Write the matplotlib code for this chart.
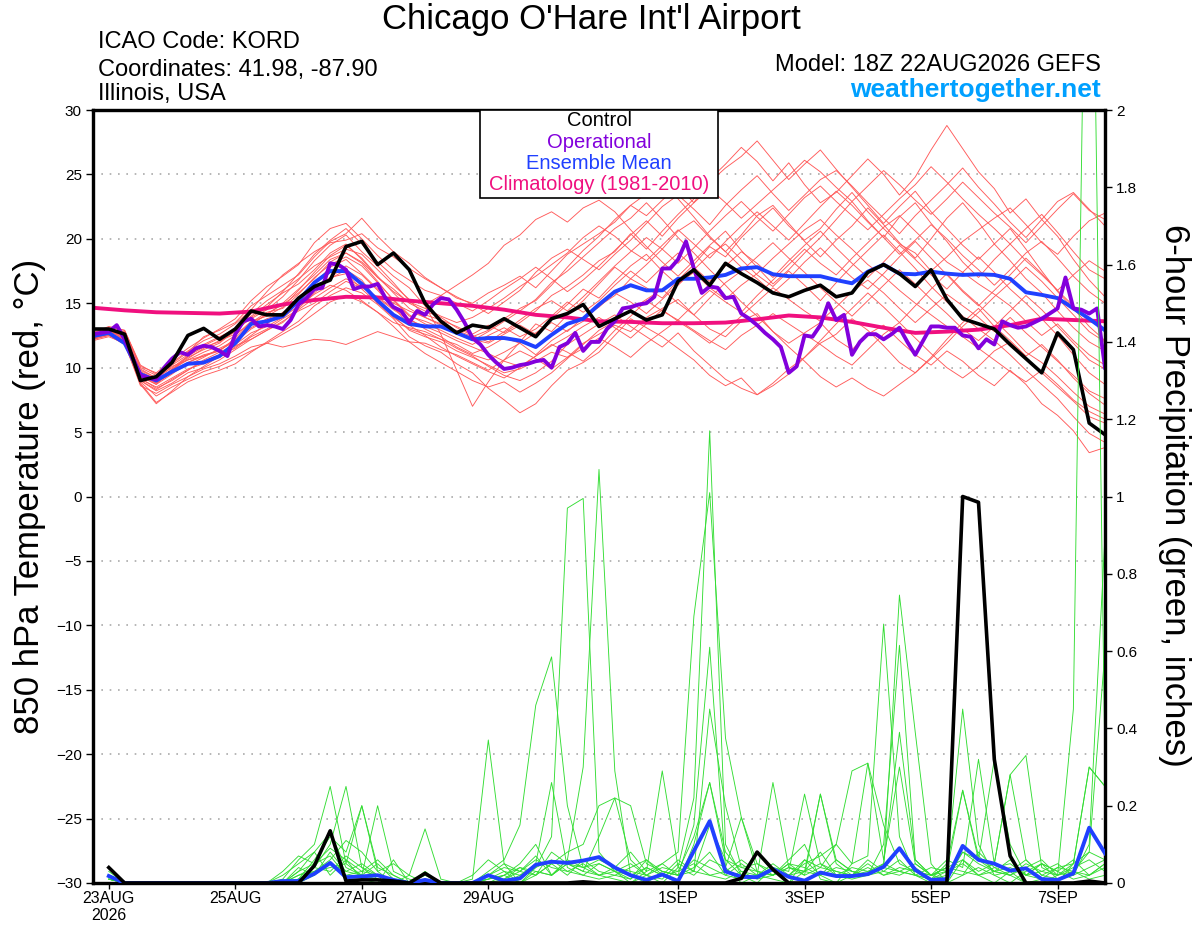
import numpy as np
import matplotlib
matplotlib.use("Agg")
import matplotlib.pyplot as plt
from matplotlib.patches import Rectangle

plt.rcParams['font.family'] = ['Liberation Sans', 'DejaVu Sans']

# forecast hours counted from 23AUG 00Z
hours_t = np.arange(-6, 379, 6)     # 850 hPa temperature, 6-hourly
hours_op = np.arange(-6, 379, 3)    # operational run, 3-hourly
hours_p = np.arange(0, 379, 6)      # 6-hour precipitation
hours_clim = np.arange(-6, 379, 12)

tick_hours = [0, 48, 96, 144, 216, 264, 312, 360]
tick_labels = ['23AUG\n2026', '25AUG', '27AUG', '29AUG', '1SEP', '3SEP', '5SEP', '7SEP']

# ---- temperature (deg C) ----
ctrl_temp = [13.0, 13.0, 12.6, 9.0, 9.3, 10.4, 12.5, 13.05,
             12.2, 13.0, 14.4, 14.1, 14.1, 15.4, 16.3, 16.8,
             19.4, 19.8, 18.0, 18.9, 17.6, 15.0, 13.6, 12.7,
             13.3, 13.1, 13.8, 13.1, 12.4, 13.8, 14.2, 14.9,
             13.2, 13.8, 14.4, 13.7, 14.1, 16.7, 17.6, 16.4,
             18.1, 17.3, 16.6, 15.8, 15.5, 16.0, 16.4, 15.5,
             15.8, 17.4, 18.0, 17.3, 16.3, 17.6, 15.3, 13.8,
             13.4, 13.0, 11.8, 10.7, 9.6, 12.7, 11.4, 5.7,
             4.8]

mean_temp = [12.45, 12.7, 11.9, 9.5, 9.0, 9.7, 10.3, 10.4,
             10.9, 11.9, 13.4, 13.6, 14.0, 15.2, 16.6, 17.5,
             17.5, 16.5, 15.2, 14.1, 13.4, 13.2, 13.2, 12.7,
             12.2, 12.3, 12.3, 12.1, 11.6, 12.55, 13.4, 13.8,
             14.9, 15.9, 16.4, 16.0, 16.0, 16.9, 16.9, 17.0,
             17.2, 17.7, 17.8, 17.25, 17.1, 17.1, 17.1, 16.8,
             16.55, 17.45, 18.0, 17.3, 17.25, 17.45, 17.3, 17.2,
             17.25, 17.2, 16.9, 15.85, 15.65, 15.4, 14.6, 13.8,
             12.9]

oper_temp = [12.6, 12.7, 12.8, 13.3, 12.2, 10.8, 9.4, 9.2, 9.1, 10.0, 10.7, 11.2, 11.0, 11.5, 11.7, 11.6,
             11.3, 10.9, 12.6, 13.6, 13.8, 13.2, 13.3, 13.2, 13.0, 13.7, 14.9, 15.4, 16.1, 16.2, 18.1, 18.0,
             17.6, 16.1, 16.3, 16.3, 16.5, 15.4, 14.7, 14.4, 13.5, 14.4, 14.1, 14.9, 15.4, 15.3, 14.5, 13.5,
             12.3, 11.8, 11.0, 10.4, 9.9, 10.0, 10.2, 10.3, 10.5, 10.6, 10.0, 11.6, 11.9, 12.7, 11.3, 12.0,
             12.0, 13.0, 13.6, 14.6, 14.7, 14.9, 15.0, 15.5, 17.7, 17.7, 18.4, 19.8, 17.7, 15.8, 16.3, 16.2,
             15.4, 15.5, 14.2, 13.8, 13.3, 12.7, 12.2, 11.6, 9.6, 10.1, 12.5, 12.4, 13.3, 15.0, 13.7, 14.1,
             11.0, 12.0, 12.6, 12.6, 12.2, 12.6, 13.1, 12.0, 11.0, 12.1, 13.2, 13.2, 13.1, 13.1, 12.5, 12.4,
             11.5, 12.2, 11.8, 13.6, 13.3, 13.1, 13.2, 13.5, 13.8, 14.2, 14.6, 17.0, 14.6, 14.5, 14.2, 14.6,
             10.0]

clim_temp = [14.65, 14.45, 14.3, 14.25, 14.2, 14.35, 14.9, 15.25, 15.5, 15.45, 15.2,
             15.0, 14.8, 14.5, 14.1, 13.9, 13.6, 13.55, 13.45, 13.45, 13.5, 13.75,
             14.05, 13.9, 13.55, 13.1, 12.7, 12.8, 12.95, 13.3, 13.8, 13.7, 13.6]

mem01 = [12.6, 13.0, 12.8, 10.0, 9.4, 10.3, 11.2, 12.4, 12.9, 13.5, 14.8, 15.6, 16.4, 17.2, 18.6, 19.8,
         20.4, 21.6, 20.2, 19.0, 18.1, 17.0, 16.2, 15.4, 15.0, 15.8, 16.4, 17.1, 16.2, 17.5, 18.8, 19.6,
         20.4, 21.3, 22.6, 21.8, 23.0, 24.1, 22.8, 24.6, 25.8, 27.1, 26.0, 24.5, 25.9, 24.2, 22.8, 23.6,
         24.9, 26.2, 25.0, 23.4, 24.8, 26.9, 28.8, 27.0, 25.2, 23.9, 22.0, 23.1, 21.5, 20.2, 18.4, 16.8, 15.5]
mem02 = [12.3, 12.6, 12.0, 9.0, 8.2, 8.8, 9.6, 10.0, 10.6, 11.4, 12.2, 12.9, 13.5, 14.6, 15.8, 16.9,
         17.6, 16.8, 15.2, 14.0, 12.9, 12.4, 12.0, 11.3, 10.8, 10.2, 9.6, 9.9, 10.5, 11.2, 10.8, 11.9,
         12.6, 13.3, 12.8, 13.9, 14.6, 15.3, 14.1, 13.0, 12.4, 13.6, 14.2, 12.8, 11.9, 12.7, 13.5, 12.2,
         11.4, 12.6, 13.3, 12.1, 11.0, 10.2, 11.3, 10.5, 9.4, 8.6, 9.8, 8.7, 7.2, 6.3, 5.1, 3.4, 3.8]
mem03 = [12.5, 12.9, 12.6, 9.6, 8.9, 9.8, 10.9, 11.6, 12.0, 12.8, 13.9, 14.7, 15.9, 17.3, 18.8, 19.9,
         20.8, 19.6, 18.2, 17.1, 16.2, 14.8, 12.6, 9.8, 7.0, 8.9, 10.6, 12.0, 13.4, 12.8, 14.1, 15.2,
         16.5, 17.8, 16.9, 18.0, 19.2, 20.6, 21.4, 20.1, 19.0, 20.3, 21.8, 22.6, 21.2, 19.8, 18.6, 19.9,
         21.0, 22.4, 21.1, 19.7, 18.5, 20.0, 21.6, 22.8, 21.3, 19.6, 20.8, 19.2, 17.5, 15.9, 14.6, 13.2, 12.1]
mem04 = [12.2, 12.5, 11.8, 8.8, 7.3, 8.1, 8.9, 9.4, 9.8, 10.3, 11.2, 12.0, 12.8, 13.6, 14.8, 15.6,
         16.2, 15.8, 14.9, 13.8, 12.4, 11.7, 11.2, 10.3, 9.6, 8.4, 7.5, 6.5, 7.2, 8.6, 9.8, 10.4,
         11.2, 12.5, 13.8, 13.1, 12.4, 11.5, 10.6, 9.4, 8.6, 9.2, 7.9, 8.8, 9.9, 10.8, 11.9, 12.6,
         13.8, 12.9, 11.7, 10.4, 9.6, 10.8, 12.2, 13.5, 14.6, 13.2, 12.1, 10.9, 11.8, 10.6, 9.2, 8.0, 7.1]
mem05 = [12.4, 12.7, 12.1, 9.3, 8.7, 9.9, 10.8, 11.4, 11.9, 12.9, 14.2, 15.2, 16.0, 16.9, 17.9, 18.6,
         19.2, 18.8, 17.6, 16.4, 15.3, 14.9, 15.6, 16.4, 17.2, 18.1, 19.5, 20.3, 21.5, 22.1, 21.3, 22.4,
         23.0, 22.1, 20.7, 19.4, 18.2, 17.1, 18.3, 19.5, 20.6, 19.1, 17.8, 16.5, 17.6, 18.9, 20.1, 21.5,
         22.9, 21.4, 20.1, 21.7, 22.8, 21.2, 19.8, 18.2, 17.0, 18.4, 19.6, 20.8, 21.9, 20.5, 19.0, 17.6, 16.9]
mem06 = [12.6, 12.9, 12.2, 9.7, 9.1, 10.1, 10.6, 10.9, 11.3, 12.2, 13.1, 13.8, 14.2, 15.4, 16.2, 17.0,
         17.3, 16.1, 15.0, 13.9, 13.0, 12.6, 12.2, 11.8, 11.1, 11.6, 12.3, 11.9, 11.0, 12.1, 12.9, 13.6,
         14.8, 15.6, 16.9, 16.2, 15.4, 16.8, 18.0, 19.4, 18.6, 20.1, 21.3, 22.4, 21.0, 19.9, 20.8, 22.3,
         23.6, 22.1, 20.8, 19.6, 18.9, 17.5, 18.6, 19.8, 20.7, 21.6, 22.4, 21.1, 19.7, 18.8, 20.2, 21.4, 22.0]
mem07 = [12.3, 12.6, 12.3, 9.2, 8.4, 9.0, 9.8, 10.6, 11.2, 11.8, 12.7, 13.2, 13.9, 14.8, 15.7, 16.4,
         16.0, 15.2, 14.3, 13.5, 13.1, 12.8, 12.2, 11.5, 10.9, 10.1, 9.4, 9.0, 9.6, 10.5, 11.8, 12.6,
         13.4, 14.1, 13.2, 12.4, 11.6, 12.7, 11.3, 10.2, 9.1, 8.4, 7.9, 8.6, 9.5, 10.8, 12.1, 13.4,
         14.6, 15.8, 14.7, 13.5, 14.8, 16.1, 17.3, 16.0, 14.9, 13.7, 12.5, 11.2, 10.4, 9.3, 8.1, 7.0, 6.4]
mem08 = [12.7, 13.1, 12.9, 10.2, 9.5, 10.4, 11.3, 12.1, 12.6, 13.4, 14.5, 15.9, 17.2, 18.1, 19.0, 19.7,
         19.9, 20.4, 19.3, 18.6, 17.7, 16.9, 16.2, 15.5, 14.9, 14.2, 15.1, 16.0, 17.4, 18.5, 19.2, 18.4,
         17.6, 18.8, 19.9, 21.2, 22.5, 23.4, 22.3, 21.1, 22.6, 23.8, 24.9, 23.5, 22.2, 23.4, 24.6, 25.3,
         24.1, 22.8, 21.6, 20.4, 21.8, 23.0, 24.2, 25.5, 24.0, 22.7, 21.3, 20.1, 21.5, 22.9, 23.6, 22.3, 21.0]
mem09 = [12.1, 12.4, 11.9, 8.6, 8.0, 8.7, 9.3, 9.9, 10.3, 10.9, 11.6, 11.9, 11.6, 11.9, 12.2, 12.1,
         11.8, 12.3, 12.8, 12.4, 12.0, 11.9, 11.4, 11.0, 10.4, 9.8, 10.6, 11.3, 10.7, 9.9, 10.8, 11.5,
         12.3, 11.6, 10.8, 11.9, 12.8, 13.7, 12.9, 12.1, 11.4, 12.5, 13.3, 14.2, 13.4, 12.6, 11.8, 10.9,
         10.2, 11.4, 12.6, 13.5, 12.3, 11.1, 10.0, 9.2, 10.1, 11.3, 12.0, 10.8, 9.6, 8.5, 7.4, 6.2, 5.7]
mem10 = [12.5, 12.8, 12.5, 9.5, 8.8, 9.6, 10.2, 10.8, 11.5, 12.1, 13.3, 14.2, 14.9, 15.8, 16.9, 18.2,
         18.9, 18.1, 16.7, 15.2, 14.0, 13.6, 13.1, 12.9, 12.4, 12.9, 13.8, 14.6, 15.2, 16.4, 17.8, 19.1,
         20.2, 21.5, 22.6, 23.5, 24.2, 23.1, 21.7, 20.2, 19.0, 17.8, 16.9, 15.8, 16.9, 18.2, 19.3, 18.1,
         17.0, 16.1, 17.3, 18.6, 19.8, 18.5, 17.2, 15.9, 14.8, 16.0, 17.2, 18.5, 17.3, 16.0, 14.8, 13.7, 12.9]
mem11 = [12.3, 12.7, 12.0, 9.1, 8.5, 9.2, 9.9, 10.3, 10.8, 11.6, 12.5, 13.4, 14.3, 15.0, 16.1, 17.0,
         17.9, 17.2, 16.0, 14.7, 13.3, 12.5, 11.6, 10.9, 10.3, 9.7, 9.2, 10.0, 10.9, 11.8, 11.2, 10.5,
         11.6, 12.9, 14.0, 15.2, 14.4, 13.7, 14.9, 16.0, 15.1, 14.3, 15.6, 16.8, 18.0, 19.2, 18.1, 17.2,
         18.5, 19.7, 20.9, 21.8, 20.6, 19.4, 18.2, 17.4, 16.5, 15.7, 14.8, 13.6, 12.5, 13.4, 12.1, 11.0, 10.2]
mem12 = [12.6, 13.0, 12.7, 9.9, 9.2, 10.0, 10.9, 11.8, 12.4, 13.0, 13.8, 14.5, 15.5, 16.8, 18.3, 19.5,
         20.3, 19.0, 17.9, 16.6, 15.2, 14.1, 13.7, 13.2, 12.6, 13.3, 12.7, 13.5, 14.4, 15.6, 16.3, 17.2,
         18.3, 19.0, 20.4, 19.2, 20.6, 21.9, 23.1, 24.4, 25.5, 26.4, 27.6, 26.1, 24.6, 25.8, 26.9, 25.4,
         24.0, 22.6, 21.2, 22.5, 23.7, 22.1, 20.8, 19.5, 18.4, 19.6, 18.3, 16.9, 15.8, 14.4, 13.1, 12.0, 11.3]
mem13 = [12.4, 12.8, 12.3, 9.4, 8.7, 9.5, 10.4, 10.9, 11.4, 12.0, 13.0, 13.7, 14.1, 15.1, 16.5, 17.8,
         18.4, 17.3, 16.1, 15.0, 14.4, 13.9, 13.4, 12.8, 12.2, 11.9, 12.6, 13.3, 12.6, 13.8, 14.9, 16.1,
         15.4, 16.7, 17.9, 18.8, 17.5, 16.4, 17.6, 18.8, 19.6, 18.4, 17.2, 16.3, 17.5, 16.4, 15.2, 16.6,
         17.9, 19.1, 20.3, 19.0, 17.7, 16.3, 15.1, 14.0, 13.0, 12.1, 11.0, 9.8, 8.7, 7.6, 6.2, 4.9, 4.2]
mem14 = [12.2, 12.5, 12.1, 8.9, 7.8, 8.5, 9.1, 9.7, 10.1, 10.7, 11.3, 11.9, 12.6, 13.3, 14.2, 15.1,
         15.6, 15.1, 14.3, 13.2, 12.0, 11.1, 10.4, 9.7, 9.0, 8.5, 8.9, 8.1, 8.8, 9.6, 10.7, 11.8,
         12.9, 13.6, 14.5, 15.3, 16.1, 15.0, 14.1, 15.4, 16.6, 17.5, 18.6, 19.7, 18.5, 17.4, 16.2, 15.1,
         14.0, 15.2, 16.4, 17.6, 16.5, 15.3, 14.2, 13.0, 12.1, 13.2, 14.4, 15.6, 14.5, 13.2, 11.9, 10.6, 9.9]
mem15 = [12.5, 12.9, 12.4, 9.6, 9.0, 9.9, 10.6, 11.2, 11.7, 12.5, 13.6, 14.0, 14.7, 16.0, 17.4, 18.7,
         19.5, 18.5, 17.1, 15.8, 14.6, 13.9, 13.3, 12.7, 12.1, 12.8, 13.6, 14.4, 15.3, 16.6, 17.5, 18.6,
         19.7, 20.8, 21.6, 22.8, 21.5, 20.1, 18.9, 17.6, 16.4, 15.1, 14.0, 12.8, 11.6, 10.5, 9.3, 8.5,
         9.2, 8.4, 7.8, 8.7, 9.6, 10.7, 11.9, 13.2, 14.3, 15.5, 16.6, 17.8, 16.7, 15.4, 14.1, 12.8, 12.0]
mem16 = [12.4, 12.7, 12.2, 9.4, 8.8, 9.7, 10.4, 11.0, 11.3, 12.3, 13.5, 14.3, 14.6, 15.7, 17.0, 18.0,
         18.6, 17.9, 16.6, 15.3, 14.1, 13.4, 12.9, 12.3, 11.8, 12.5, 13.1, 12.4, 13.0, 14.0, 15.1, 14.3,
         15.2, 16.4, 17.5, 16.6, 17.8, 18.9, 17.8, 16.7, 17.9, 19.0, 18.1, 17.0, 18.3, 19.5, 20.6, 19.3,
         18.1, 17.0, 18.2, 19.5, 18.4, 17.2, 16.1, 17.4, 18.6, 17.4, 16.1, 15.0, 13.8, 12.5, 11.0, 9.6, 8.7]
mem17 = [12.3, 12.6, 12.1, 8.7, 7.2, 8.2, 9.3, 10.1, 10.9, 11.7, 12.2, 12.9, 13.6, 14.4, 15.0, 15.9,
         16.7, 16.2, 15.5, 14.6, 13.8, 13.0, 12.4, 11.6, 11.0, 10.6, 11.2, 11.9, 12.7, 13.5, 12.8, 13.9,
         14.7, 15.8, 15.1, 14.2, 15.3, 16.5, 17.4, 16.2, 15.3, 16.4, 17.3, 18.5, 19.6, 20.7, 21.5, 20.3,
         19.2, 18.0, 17.1, 16.0, 15.0, 14.1, 13.2, 12.4, 11.5, 10.6, 9.7, 8.9, 9.8, 8.7, 7.5, 6.6, 6.0]
mem18 = [12.7, 13.2, 12.9, 10.1, 9.6, 10.6, 11.5, 12.3, 13.0, 13.8, 15.2, 16.3, 17.1, 18.0, 19.7, 20.8,
         21.2, 20.0, 18.7, 17.6, 16.8, 16.0, 15.6, 15.0, 14.4, 15.2, 16.1, 16.9, 17.8, 16.9, 15.9, 16.8,
         17.9, 19.1, 20.3, 21.4, 20.2, 21.6, 22.8, 23.9, 22.8, 21.6, 22.7, 23.8, 24.9, 26.1, 25.2, 24.0,
         22.9, 24.1, 25.3, 24.2, 23.0, 21.9, 23.1, 24.4, 23.2, 22.0, 20.9, 19.7, 21.0, 22.3, 23.5, 22.2, 21.5]
mem19 = [12.5, 12.8, 12.4, 9.8, 9.2, 10.2, 11.0, 11.7, 12.3, 13.1, 14.0, 14.9, 15.8, 16.5, 17.6, 18.9,
         19.6, 18.4, 17.0, 15.9, 15.1, 14.6, 14.0, 13.5, 13.9, 14.6, 15.4, 16.3, 17.1, 18.0, 18.9, 20.1,
         21.0, 20.2, 19.1, 18.3, 19.5, 20.7, 19.6, 18.5, 19.8, 21.0, 22.1, 21.0, 19.9, 21.2, 22.5, 23.7,
         22.6, 21.3, 20.1, 18.8, 19.9, 21.1, 20.0, 18.7, 17.6, 16.4, 17.6, 18.9, 19.8, 18.5, 17.1, 15.9, 15.0]
mem20 = [12.3, 12.6, 12.2, 9.0, 8.3, 9.1, 9.8, 10.5, 11.0, 11.5, 12.4, 13.0, 13.8, 14.5, 15.4, 16.2,
         16.9, 16.3, 15.4, 14.5, 13.7, 13.2, 12.7, 12.1, 11.6, 11.1, 10.5, 10.1, 10.9, 11.7, 12.4, 13.2,
         13.9, 13.1, 12.3, 13.4, 14.5, 13.6, 12.8, 11.9, 12.9, 14.0, 15.1, 16.2, 15.3, 14.4, 13.6, 14.7,
         15.9, 16.8, 15.8, 14.6, 13.5, 14.6, 15.7, 14.8, 13.9, 12.8, 13.9, 12.7, 11.6, 10.5, 9.4, 8.2, 7.6]
mem21 = [12.6, 12.9, 12.5, 9.6, 9.0, 9.8, 10.7, 11.5, 12.1, 12.6, 13.4, 14.1, 15.0, 16.1, 17.2, 18.4,
         18.9, 18.2, 17.0, 16.1, 15.0, 14.4, 13.9, 13.1, 12.5, 12.0, 12.8, 13.7, 14.6, 15.2, 14.4, 15.5,
         16.7, 17.9, 19.0, 20.1, 19.2, 18.1, 19.3, 20.6, 21.8, 22.9, 21.7, 20.6, 21.9, 23.2, 24.1, 22.9,
         21.8, 20.7, 21.9, 23.1, 24.2, 25.6, 24.4, 23.1, 21.9, 20.8, 19.6, 18.3, 17.2, 16.0, 17.2, 18.3, 17.5]
temp_members = [mem01, mem02, mem03, mem04, mem05, mem06, mem07, mem08, mem09, mem10, mem11,
                mem12, mem13, mem14, mem15, mem16, mem17, mem18, mem19, mem20, mem21]

# ---- 6-hour precipitation (inches) ----
ctrl_prcp = [0.04, 0, 0, 0, 0, 0, 0, 0,
             0, 0, 0, 0, 0, 0.045, 0.135, 0.005,
             0.008, 0.008, 0.005, 0, 0.025, 0, 0, 0,
             0, 0, 0, 0, 0, 0, 0.003, 0,
             0, 0, 0, 0, 0, 0, 0, 0,
             0.012, 0.08, 0.035, 0, 0, 0, 0, 0,
             0, 0, 0, 0, 0, 0, 1.0, 0.985,
             0.32, 0.07, 0, 0, 0, 0, 0.005, 0]

mean_prcp = [0.018, 0, 0, 0, 0, 0, 0, 0,
             0, 0, 0, 0.005, 0.005, 0.024, 0.052, 0.015,
             0.017, 0.02, 0.008, 0, 0.008, 0, 0, 0,
             0.02, 0.006, 0.012, 0.047, 0.055, 0.052, 0.058, 0.067,
             0.04, 0.02, 0.008, 0.022, 0.005, 0.083, 0.16, 0.03,
             0.016, 0.015, 0.036, 0.016, 0.006, 0.027, 0.018, 0.018,
             0.023, 0.042, 0.09, 0.034, 0.008, 0.01, 0.096, 0.06,
             0.05, 0.032, 0.038, 0.01, 0.008, 0.025, 0.143, 0.077]

pm01 = [0.03, 0, 0, 0, 0, 0, 0, 0, 0, 0, 0, 0, 0.01, 0.04, 0.1, 0.25,
        0.04, 0.01, 0, 0, 0.02, 0, 0, 0.01, 0.37, 0.05, 0, 0.04, 0.12, 0.97, 0.995, 0.08,
        0.03, 0, 0.02, 0, 0.04, 0.22, 1.17, 0.1, 0.02, 0, 0.04, 0, 0.06, 0.02, 0, 0.05,
        0.07, 0.67, 0.12, 0.02, 0, 0, 0.06, 0.02, 0, 0.03, 0, 0, 0.02, 0.45, 3.2, 0.3]
pm02 = [0.02, 0, 0, 0, 0, 0, 0, 0, 0, 0, 0, 0.02, 0.05, 0.08, 0.13, 0.04,
        0.02, 0.05, 0.01, 0, 0, 0, 0, 0, 0.03, 0.06, 0.15, 0.46, 0.585, 0.2, 0.04, 0.02,
        0.01, 0, 0.03, 0.05, 0.08, 0.69, 1.01, 0.375, 0.17, 0.05, 0.02, 0.06, 0.1, 0.01, 0, 0.02,
        0.03, 0.04, 0.745, 0.39, 0.05, 0, 0.02, 0.08, 0.04, 0.02, 0, 0.01, 0, 0.05, 0.3, 0.25]
pm03 = [0.01, 0, 0, 0, 0, 0, 0, 0, 0, 0, 0, 0, 0.03, 0.08, 0.02, 0.06,
        0.01, 0, 0.06, 0, 0, 0, 0, 0, 0, 0.02, 0.05, 0.1, 0.02, 0.06, 0.3, 1.07,
        0.29, 0.02, 0, 0.03, 0.02, 0.15, 0.61, 0.04, 0, 0.02, 0.01, 0, 0.03, 0.08, 0.02, 0.01,
        0.02, 0.1, 0.615, 0.06, 0.02, 0.04, 0.45, 0.1, 0.02, 0, 0.03, 0.05, 0.01, 0.02, 0.1, 0.9]
pm04 = [0.02, 0, 0, 0, 0, 0, 0, 0, 0, 0, 0, 0.01, 0.06, 0.1, 0.25, 0.05,
        0.2, 0.03, 0, 0.02, 0, 0, 0, 0, 0, 0, 0.02, 0.05, 0.26, 0.04, 0.02, 0.05,
        0.03, 0.01, 0.06, 0.02, 0, 0.1, 0.26, 0.06, 0.02, 0.08, 0.03, 0.02, 0.05, 0.07, 0.1, 0.29,
        0.31, 0.06, 0.3, 0.05, 0.02, 0.01, 0.08, 0.06, 0.32, 0.1, 0.02, 0.05, 0.03, 0.01, 0.02, 0.05]
pm05 = [0.01, 0, 0, 0, 0, 0, 0, 0, 0, 0, 0, 0, 0.02, 0.03, 0.06, 0.11,
        0.08, 0.03, 0.05, 0.02, 0.14, 0.01, 0, 0.02, 0.06, 0.03, 0, 0.02, 0.05, 0.08, 0.1, 0.2,
        0.22, 0.2, 0.05, 0.03, 0.02, 0.04, 0.08, 0.02, 0.01, 0.02, 0.26, 0.04, 0.03, 0.23, 0.05, 0.02,
        0.06, 0.03, 0.02, 0.04, 0.01, 0.05, 0.24, 0.07, 0.03, 0.06, 0.02, 0.01, 0.04, 0.05, 0.3, 0.25]
pm06 = [0.02, 0, 0, 0, 0, 0, 0, 0, 0, 0, 0, 0, 0.04, 0.02, 0.08, 0.03,
        0.05, 0.02, 0, 0, 0.03, 0, 0, 0, 0.02, 0.04, 0.03, 0.07, 0.02, 0.05, 0.04, 0.06,
        0.04, 0.08, 0.03, 0.29, 0.04, 0.02, 0.06, 0.04, 0.17, 0.03, 0.02, 0.05, 0.02, 0.04, 0.03, 0.02,
        0.05, 0.02, 0.04, 0.03, 0.02, 0.04, 0.06, 0.03, 0.05, 0.28, 0.33, 0.04, 0.02, 0.05, 0.08, 0.6]
pm07 = [0.01, 0, 0, 0, 0, 0, 0, 0, 0, 0, 0, 0.03, 0.07, 0.05, 0.09, 0.06,
        0.03, 0.02, 0, 0, 0, 0, 0, 0, 0.01, 0.03, 0.02, 0.04, 0.06, 0.03, 0.02, 0.01,
        0.02, 0.01, 0.04, 0.02, 0.03, 0.12, 0.26, 0.08, 0.03, 0.02, 0.05, 0.02, 0.03, 0.02, 0.04, 0.03,
        0.02, 0.03, 0.06, 0.02, 0.01, 0.03, 0.02, 0.04, 0.02, 0.03, 0.06, 0.02, 0.01, 0.03, 0.02, 0.05]
pm08 = [0.02, 0, 0, 0, 0, 0, 0, 0, 0, 0, 0, 0, 0.01, 0.06, 0.12, 0.08,
        0.2, 0.04, 0.02, 0, 0.01, 0, 0, 0, 0.02, 0.01, 0.04, 0.02, 0.08, 0.05, 0.03, 0.12,
        0.22, 0.06, 0.02, 0.01, 0.05, 0.03, 0.02, 0.01, 0.03, 0.01, 0.02, 0.04, 0.02, 0.23, 0.06, 0.03,
        0.02, 0.04, 0.03, 0.02, 0.01, 0.02, 0.08, 0.05, 0.03, 0.02, 0.04, 0.06, 0.02, 0.03, 0.01, 0.02]
pm09 = [0.01, 0, 0, 0, 0, 0, 0, 0, 0, 0, 0, 0, 0, 0.02, 0.05, 0.03,
        0.02, 0.01, 0, 0, 0, 0, 0, 0, 0.01, 0.02, 0, 0.03, 0.02, 0.05, 0.03, 0.02,
        0.04, 0.03, 0.02, 0.05, 0.02, 0.03, 0.15, 0.06, 0.04, 0.05, 0.03, 0.02, 0.06, 0.04, 0.1, 0.05,
        0.31, 0.15, 0.05, 0.03, 0.02, 0.06, 0.04, 0.32, 0.05, 0.28, 0.06, 0.02, 0.04, 0.03, 0.08, 0.06]
pm10 = [0.02, 0, 0, 0, 0, 0, 0, 0, 0, 0, 0, 0, 0.02, 0.04, 0.03, 0.07,
        0.04, 0.02, 0, 0, 0, 0, 0, 0, 0, 0.01, 0.03, 0.02, 0.05, 0.02, 0.06, 0.03,
        0.02, 0.04, 0.06, 0.03, 0.02, 0.06, 0.04, 0.02, 0.05, 0.02, 0.04, 0.03, 0.23, 0.05, 0.03, 0.02,
        0.04, 0.02, 0.03, 0.05, 0.02, 0.03, 0.24, 0.06, 0.03, 0.02, 0.05, 0.03, 0.02, 0.04, 0.06, 0.03]
pm11 = [0.02, 0, 0, 0, 0, 0, 0, 0, 0, 0, 0, 0, 0.03, 0.05, 0.07, 0.02,
        0.03, 0.06, 0.02, 0, 0, 0, 0, 0, 0.02, 0.05, 0.03, 0.06, 0.04, 0.03, 0.05, 0.02,
        0.03, 0.02, 0.04, 0.02, 0.06, 0.03, 0.45, 0.2, 0.04, 0.03, 0.02, 0.04, 0.03, 0.05, 0.02, 0.04,
        0.03, 0.05, 0.39, 0.06, 0.02, 0.04, 0.03, 0.02, 0.04, 0.05, 0.02, 0.03, 0.05, 0.02, 0.04, 0.06]
pm12 = [0.01, 0, 0, 0, 0, 0, 0, 0, 0, 0, 0, 0, 0.01, 0.03, 0.04, 0.05,
        0.02, 0.2, 0.03, 0.01, 0, 0, 0, 0, 0.01, 0.02, 0.04, 0.03, 0.02, 0.06, 0.04, 0.05,
        0.03, 0.05, 0.02, 0.04, 0.03, 0.05, 0.02, 0.03, 0.06, 0.03, 0.02, 0.05, 0.04, 0.02, 0.06, 0.03,
        0.02, 0.05, 0.03, 0.02, 0.04, 0.03, 0.05, 0.02, 0.03, 0.04, 0.02, 0.05, 0.03, 0.06, 0.02, 0.04]
prcp_members = [pm01, pm02, pm03, pm04, pm05, pm06, pm07, pm08, pm09, pm10, pm11, pm12]

# colours
c_member_t = '#ff5a5a'
c_member_p = '#33dd33'
c_oper = '#8200dc'
c_mean = '#2040ff'
c_clim = '#f0107f'

W, H = 1200, 927
fig = plt.figure(figsize=(12, 9.27), dpi=100)
ax = fig.add_axes([93 / W, 44 / H, 1012 / W, 773 / H])
ax2 = ax.twinx()

for v in range(-25, 30, 5):
    ax.axhline(v, color='#aaaaaa', lw=1.2, ls=(0, (1, 4)), zorder=0)

for m in temp_members:
    ax.plot(hours_t, m, color=c_member_t, lw=0.65, zorder=1)
ax.plot(hours_clim, clim_temp, color=c_clim, lw=2.8, zorder=2)
ax.plot(hours_t, mean_temp, color=c_mean, lw=2.8, zorder=3)
ax.plot(hours_op, oper_temp, color=c_oper, lw=2.8, zorder=4)
ax.plot(hours_t, ctrl_temp, color='black', lw=2.6, zorder=5)

for m in prcp_members:
    ax2.plot(hours_p, m, color=c_member_p, lw=0.65, zorder=1)
ax2.plot(hours_p, mean_prcp, color=c_mean, lw=2.8, zorder=3)
ax2.plot(hours_p, ctrl_prcp, color='black', lw=2.6, zorder=4)

ax.set_xlim(-6, 378)
ax.set_ylim(-30, 30)
ax2.set_ylim(0, 2)
ax.set_yticks(range(-30, 31, 5))
ax2.set_yticks(np.arange(0, 2.01, 0.2))
ax2.set_yticklabels(['0', '0.2', '0.4', '0.6', '0.8', '1', '1.2', '1.4', '1.6', '1.8', '2'])
ax.set_xticks(tick_hours)
ax.set_xticklabels(tick_labels, fontsize=11.5, linespacing=1.1)
ax.tick_params(axis='y', direction='out', length=5, width=1, labelsize=11, pad=3)
ax2.tick_params(axis='y', direction='out', length=5, width=1, labelsize=11, pad=3)
ax.tick_params(axis='x', direction='out', length=4, width=1, pad=2)

for a in (ax, ax2):
    for s in a.spines.values():
        s.set_linewidth(2.3)

# header texts
fig.text(591 / W, 1 - 28.5 / H, "Chicago O'Hare Int'l Airport", fontsize=25, ha='center', va='baseline')
fig.text(98 / W, 1 - 48 / H, "ICAO Code: KORD", fontsize=17, ha='left', va='baseline')
fig.text(98 / W, 1 - 76 / H, "Coordinates: 41.98, -87.90", fontsize=17, ha='left', va='baseline')
fig.text(98 / W, 1 - 100 / H, "Illinois, USA", fontsize=17, ha='left', va='baseline')
fig.text(1101 / W, 1 - 71 / H, "Model: 18Z 22AUG2026 GEFS", fontsize=17, ha='right', va='baseline')
fig.text(1101 / W, 1 - 97 / H, "weathertogether.net", fontsize=19, fontweight='bold',
         color='#00a0ff', ha='right', va='baseline')

fig.text(30 / W, 1 - 496 / H, "850 hPa Temperature (red, \u00b0C)", fontsize=25, rotation=90,
         ha='center', va='center')
fig.text(1175 / W, 1 - 495 / H, "6-hour Precipitation (green, inches)", fontsize=25, rotation=270,
         ha='center', va='center')

# legend box
fig.add_artist(Rectangle((480 / W, 1 - 198 / H), 238 / W, 88 / H, transform=fig.transFigure,
                         facecolor='white', edgecolor='black', lw=1.2, zorder=5))
legend_items = [('Control', 'black'), ('Operational', c_oper),
                ('Ensemble Mean', c_mean), ('Climatology (1981-2010)', c_clim)]
for k, (txt, col) in enumerate(legend_items):
    fig.text(599 / W, 1 - (121 + 21.3 * k) / H, txt, fontsize=14.5, color=col,
             ha='center', va='center', zorder=6)

fig.savefig('out.png', dpi=100)
